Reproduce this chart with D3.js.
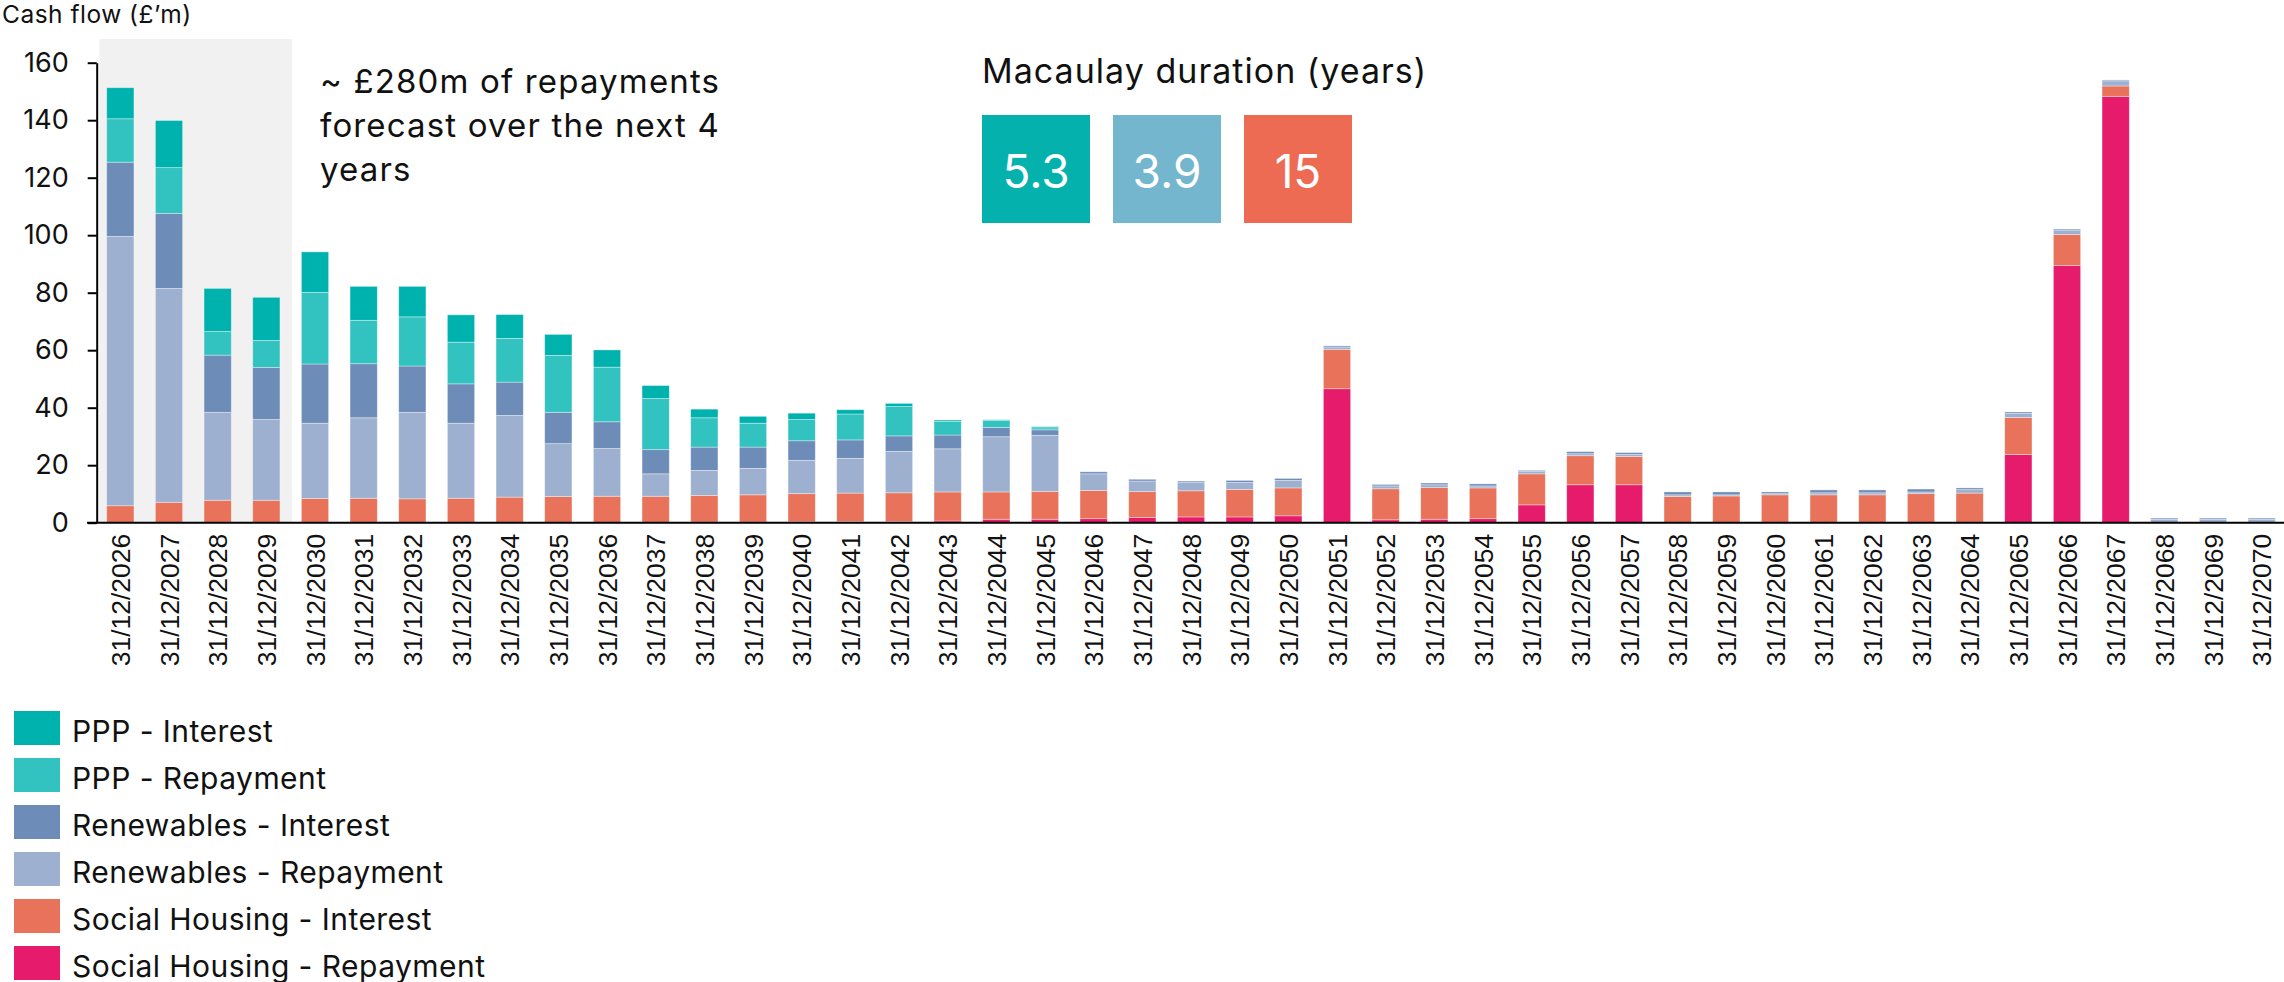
<!DOCTYPE html>
<html>
<head>
<meta charset="utf-8">
<script src="https://cdn.jsdelivr.net/npm/d3@7"></script>
<style>
  body { margin: 0; background: #fff; }
  svg { display: block; }
  .txt { font-family: Inter, "Open Sans", sans-serif; fill: #111; }
</style>
</head>
<body>
<div id="chart"></div>
<script>
// years on the x axis
const years = d3.range(2026, 2071).map(y => `31/12/${y}`);

// cash flow per series (£m)
const pppInterest = [10.8, 16.4, 15.0, 15.0, 14.1, 11.8, 10.6, 9.5, 8.3, 7.3, 6.0, 4.5, 3.0, 2.4, 2.2, 1.5, 1.1, 0.5, 0.3, 0.4,
  0, 0, 0, 0, 0, 0, 0, 0, 0, 0, 0, 0, 0, 0, 0, 0, 0, 0, 0, 0, 0, 0, 0, 0, 0];
const pppRepayment = [15.1, 15.9, 8.2, 9.4, 24.9, 15.1, 17.1, 14.5, 15.2, 19.8, 19.0, 17.8, 10.2, 8.3, 7.4, 9.0, 10.2, 4.7, 2.4, 0.7,
  0, 0, 0, 0, 0, 0, 0, 0, 0, 0, 0, 0, 0, 0, 0, 0, 0, 0, 0, 0, 0, 0, 0, 0, 0];
const renInterest = [25.8, 26.1, 19.9, 18.1, 20.6, 18.8, 16.1, 13.7, 11.6, 10.9, 9.3, 8.4, 8.1, 7.4, 6.8, 6.4, 5.4, 4.8, 3.2, 1.9,
  0.7, 0.6, 0.4, 0.7, 0.7, 0.4, 0.5, 0.6, 0.7, 0.4, 0.7, 0.6, 1.0, 1.0, 0.6, 1.0, 1.0, 1.0, 0.6, 0.5, 0.5, 0.3, 0.4, 0.4, 0.4];
const renRepayment = [93.7, 74.4, 30.6, 28.1, 26.2, 28.0, 30.1, 26.1, 28.4, 18.4, 16.6, 7.8, 8.7, 9.2, 11.6, 12.1, 14.4, 15.0, 19.2, 19.5,
  5.8, 3.7, 3.0, 2.4, 2.6, 0.8, 1.0, 1.0, 0.7, 0.8, 0.7, 0.8, 0.6, 0.4, 0.4, 0.7, 0.7, 0.6, 1.2, 1.4, 1.4, 1.8, 1.2, 1.2, 1.2];
const shInterest = [5.9, 7.1, 7.8, 7.8, 8.3, 8.4, 8.2, 8.4, 8.8, 9.0, 9.1, 9.1, 9.3, 9.5, 9.8, 9.9, 10.0, 10.1, 9.5, 9.7,
  9.8, 9.0, 9.1, 9.6, 9.7, 13.7, 10.8, 11.0, 10.7, 10.8, 10.1, 9.8, 9.1, 9.3, 9.7, 9.7, 9.7, 10.1, 10.3, 12.9, 10.7, 3.6, 0, 0, 0];
const shRepayment = [0, 0, 0, 0, 0.1, 0.1, 0.1, 0.1, 0.1, 0.1, 0.1, 0.1, 0.2, 0.2, 0.3, 0.4, 0.4, 0.6, 1.2, 1.2,
  1.4, 1.8, 2.0, 2.0, 2.4, 46.6, 1.0, 1.2, 1.4, 6.2, 13.2, 13.2, 0, 0, 0, 0, 0, 0, 0, 23.7, 89.5, 148.3, 0, 0, 0];

// stacked bottom to top
const seriesNames = ["Social Housing - Repayment", "Social Housing - Interest", "Renewables - Repayment",
  "Renewables - Interest", "PPP - Repayment", "PPP - Interest"];
const seriesValues = [shRepayment, shInterest, renRepayment, renInterest, pppRepayment, pppInterest];
const seriesColors = ["#e71b6c", "#e8725a", "#9eb0cf", "#6d8cb8", "#32c2bf", "#00b2ae"];

const yTicks = [0, 20, 40, 60, 80, 100, 120, 140, 160];

// macaulay duration boxes
const durations = ["5.3", "3.9", "15"];
const durationColors = ["#04b1ad", "#74b6cd", "#ec6b52"];

const annotation = ["~ £280m of repayments", "forecast over the next 4", "years"];

const width = 2284, height = 982;

const svg = d3.select("#chart").append("svg")
  .attr("width", width)
  .attr("height", height);

const x = d3.scaleBand()
  .domain(years)
  .range([96, 2286])
  .paddingInner(0.44)
  .paddingOuter(0.22);

const y = d3.scaleLinear()
  .domain([0, 160])
  .range([522.7, 62.7]);

// rows for the stack
const rows = years.map((yr, i) => {
  const r = { year: yr };
  seriesNames.forEach((n, j) => r[n] = seriesValues[j][i]);
  return r;
});
const stacked = d3.stack().keys(seriesNames)(rows);

// grey highlight behind the first 4 years
const greyX0 = x(years[0]) - x.step() * 0.15;
const greyX1 = x(years[3]) + x.bandwidth() + x.step() * 0.25;
svg.append("rect")
  .attr("x", greyX0)
  .attr("y", 39)
  .attr("width", greyX1 - greyX0)
  .attr("height", y(0) - 39)
  .attr("fill", "#f1f1f1");

svg.append("g")
  .selectAll("g")
  .data(stacked)
  .join("g")
  .attr("fill", (d, i) => seriesColors[i])
  .selectAll("rect")
  .data(d => d)
  .join("rect")
  .filter(d => d[1] - d[0] > 0)
  .attr("x", d => x(d.data.year))
  .attr("y", d => y(d[1]))
  .attr("width", x.bandwidth())
  .attr("height", d => y(d[0]) - y(d[1]))
  .attr("stroke", "#fff")
  .attr("stroke-opacity", 0.45)
  .attr("stroke-width", 0.8);

// y axis
const yAxis = svg.append("g")
  .attr("transform", `translate(96.7,0)`)
  .call(d3.axisLeft(y).tickValues(yTicks).tickSize(9).tickSizeOuter(0).tickPadding(19));
yAxis.select(".domain").attr("stroke", "#000").attr("stroke-width", 2);
yAxis.selectAll(".tick line").attr("stroke", "#000").attr("stroke-width", 2);
yAxis.selectAll(".tick text")
  .attr("class", "txt")
  .attr("font-size", 27)
  .attr("fill", "#111");

// x axis line
svg.append("line")
  .attr("x1", 87)
  .attr("x2", width)
  .attr("y1", y(0))
  .attr("y2", y(0))
  .attr("stroke", "#000")
  .attr("stroke-width", 2);

// x labels
svg.append("g")
  .selectAll("text")
  .data(years)
  .join("text")
  .attr("transform", d => `translate(${x(d) + x.bandwidth() / 2},${y(0) + 11}) rotate(-90)`)
  .attr("text-anchor", "end")
  .attr("dy", "0.36em")
  .attr("font-family", "'Liberation Sans', Arial, sans-serif")
  .attr("font-size", 26.5)
  .attr("fill", "#111")
  .text(d => d);

// axis title
svg.append("text")
  .attr("class", "txt")
  .attr("x", 2)
  .attr("y", 23)
  .attr("font-size", 24.5)
  .attr("letter-spacing", "0.02em")
  .text("Cash flow (£’m)");

// annotation
svg.append("text")
  .attr("class", "txt")
  .attr("font-size", 33)
  .attr("letter-spacing", "0.035em")
  .selectAll("tspan")
  .data(annotation)
  .join("tspan")
  .attr("x", 320)
  .attr("y", (d, i) => 93 + i * 44)
  .text(d => d);

// macaulay duration
svg.append("text")
  .attr("class", "txt")
  .attr("x", 982)
  .attr("y", 83)
  .attr("font-size", 34)
  .attr("letter-spacing", "0.03em")
  .text("Macaulay duration (years)");

const box = svg.append("g")
  .selectAll("g")
  .data(durations)
  .join("g")
  .attr("transform", (d, i) => `translate(${982 + i * 131},115)`);
box.append("rect")
  .attr("width", 108)
  .attr("height", 108)
  .attr("fill", (d, i) => durationColors[i]);
box.append("text")
  .attr("class", "txt")
  .attr("x", 54)
  .attr("y", 73)
  .attr("text-anchor", "middle")
  .attr("font-size", 46)
  .style("fill", "#fff")
  .text(d => d);

// legend, top to bottom
const legendNames = seriesNames.slice().reverse();
const legendColors = seriesColors.slice().reverse();
const legend = svg.append("g")
  .selectAll("g")
  .data(legendNames)
  .join("g")
  .attr("transform", (d, i) => `translate(14,${711 + i * 47})`);
legend.append("rect")
  .attr("width", 46)
  .attr("height", 34)
  .attr("fill", (d, i) => legendColors[i]);
legend.append("text")
  .attr("class", "txt")
  .attr("x", 58)
  .attr("y", 30.5)
  .attr("font-size", 30)
  .attr("letter-spacing", "0.015em")
  .text(d => d);
</script>
</body>
</html>
